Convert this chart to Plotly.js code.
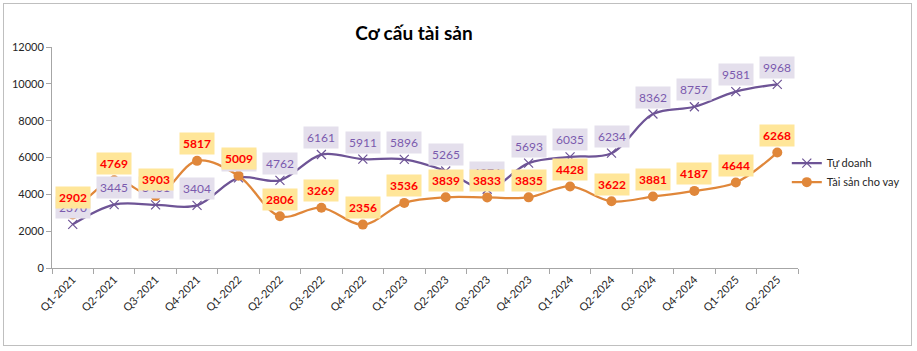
<!DOCTYPE html>
<html>
<head>
<meta charset="utf-8">
<script src="https://cdn.plot.ly/plotly-3.0.1.min.js"></script>
<style>
  html, body { margin: 0; padding: 0; background: #ffffff; }
  #wrap { position: absolute; left: 3px; top: 3px; width: 907px; height: 341px; border: 1px solid #BFBFBF; background: #fff; }
  #chart { width: 907px; height: 341px; }
</style>
</head>
<body>
<div id="wrap"><div id="chart"></div></div>
<script>
const quarters = ["Q1-2021","Q2-2021","Q3-2021","Q4-2021","Q1-2022","Q2-2022","Q3-2022","Q4-2022","Q1-2023","Q2-2023","Q3-2023","Q4-2023","Q1-2024","Q2-2024","Q3-2024","Q4-2024","Q1-2025","Q2-2025"];
const tuDoanh = [2370, 3445, 3431, 3404, 4891, 4762, 6161, 5911, 5896, 5265, 4276, 5693, 6035, 6234, 8362, 8757, 9581, 9968];
const taiSanChoVay = [2902, 4769, 3903, 5817, 5009, 2806, 3269, 2356, 3536, 3839, 3833, 3835, 4428, 3622, 3881, 4187, 4644, 6268];
const yTicks = [0, 2000, 4000, 6000, 8000, 10000, 12000];

const FONT = "Lato, 'Open Sans', sans-serif";
const purple = "#6E5496";
const orange = "#E0873A";

const traces = [
  {
    x: quarters, y: tuDoanh, name: "Tự doanh", type: "scatter", mode: "lines+markers",
    line: { color: purple, width: 2.25, shape: "spline", smoothing: 1 },
    marker: { symbol: "x-thin", size: 9, line: { color: purple, width: 1.2 }, color: purple }
  },
  {
    x: quarters, y: taiSanChoVay, name: "Tài sản cho vay", type: "scatter", mode: "lines+markers",
    line: { color: orange, width: 2.25, shape: "spline", smoothing: 1 },
    marker: { symbol: "circle", size: 10, color: orange }
  }
];

const annotations = [];
quarters.forEach((q, i) => {
  annotations.push({
    x: q, y: tuDoanh[i], xref: "x", yref: "y", text: String(tuDoanh[i]),
    showarrow: false, yshift: 17, bgcolor: "#E4DFEC", borderpad: 3,
    font: { family: FONT, size: 12, color: "#7B5AAE" }
  });
});
quarters.forEach((q, i) => {
  annotations.push({
    x: q, y: taiSanChoVay[i], xref: "x", yref: "y", text: "<b>" + taiSanChoVay[i] + "</b>",
    showarrow: false, yshift: 17, bgcolor: "#FFE699", borderpad: 3,
    font: { family: FONT, size: 12, color: "#FF0000" }
  });
});

const layout = {
  width: 907, height: 341,
  margin: { l: 48, r: 113, t: 43, b: 77, autoexpand: false },
  paper_bgcolor: "#ffffff", plot_bgcolor: "#ffffff",
  font: { family: FONT, size: 11, color: "#262626" },
  title: { text: "<b>Cơ cấu tài sản</b>", x: 0.452, xanchor: "center", y: 0.915, yanchor: "middle",
           font: { family: FONT, size: 19, color: "#000000" } },
  xaxis: {
    type: "category", tickangle: -45, showgrid: false, zeroline: false,
    showline: true, linecolor: "#A6A6A6", linewidth: 1,
    ticks: "outside", tickson: "boundaries", ticklen: 5, tickcolor: "#A6A6A6",
    tickfont: { family: FONT, size: 11, color: "#262626" }, range: [-0.5, 17.5]
  },
  yaxis: {
    range: [0, 12000], tickvals: yTicks, ticktext: yTicks.map(String),
    showgrid: false, zeroline: false, showline: true, linecolor: "#A6A6A6", linewidth: 1,
    ticks: "outside", ticklen: 5, tickcolor: "#A6A6A6",
    tickfont: { family: FONT, size: 11, color: "#262626" }
  },
  showlegend: true,
  legend: {
    x: 0.985, xanchor: "left", y: 0.54, yanchor: "top",
    font: { family: FONT, size: 11, color: "#262626" },
    itemwidth: 30, bgcolor: "rgba(0,0,0,0)"
  },
  annotations: annotations
};

Plotly.newPlot("chart", traces, layout, { displayModeBar: false, responsive: false });
</script>
</body>
</html>
